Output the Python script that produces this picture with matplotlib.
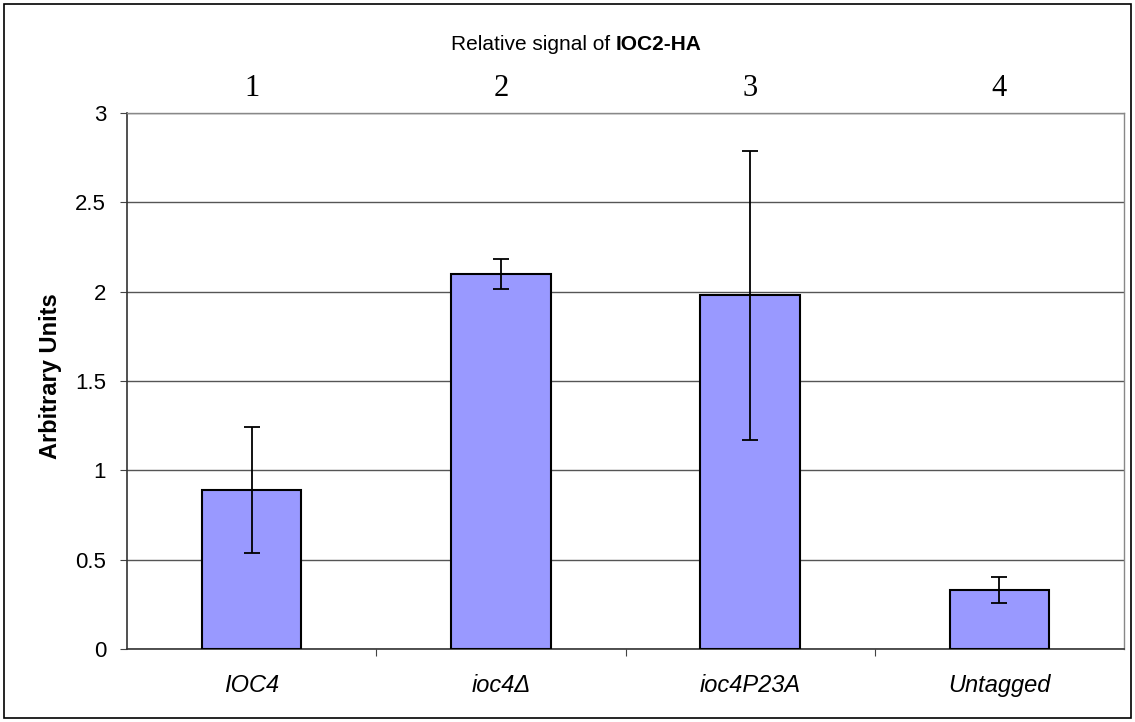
import matplotlib
matplotlib.use("Agg")
from matplotlib import pyplot as plt
from matplotlib import transforms
from matplotlib.patches import Rectangle

plt.rcParams['font.family'] = ['Liberation Sans', 'DejaVu Sans']

categories = ['IOC4', 'ioc4Δ', 'ioc4P23A', 'Untagged']
lane_numbers = ['1', '2', '3', '4']
values = [0.89, 2.10, 1.98, 0.33]
errors = [0.35, 0.085, 0.81, 0.075]
y_ticks = [0, 0.5, 1, 1.5, 2, 2.5, 3]
y_tick_labels = ['0', '0.5', '1', '1.5', '2', '2.5', '3']

W, H = 1135, 722
fig = plt.figure(figsize=(W / 100, H / 100), dpi=100)
ax = fig.add_axes([127 / W, 1 - 649 / H, (1124 - 127) / W, (649 - 113) / H])

x = list(range(len(categories)))
ax.bar(x, values, width=0.4, color='#9999ff', edgecolor='black', linewidth=1.5, zorder=3)
ax.errorbar(x, values, yerr=errors, fmt='none', ecolor='black', elinewidth=1.3,
            capsize=6, capthick=1.3, zorder=4)

ax.set_xlim(-0.5, len(categories) - 0.5)
ax.set_ylim(0, 3)
ax.set_yticks(y_ticks)
ax.set_yticklabels(y_tick_labels, fontsize=16)
ax.yaxis.grid(True, color='#555555', linewidth=1)
ax.set_axisbelow(True)

# category labels between boundary ticks
ax.set_xticks([i + 0.5 for i in x[:-1]])
ax.set_xticklabels([])
ax.set_xticks(x, minor=True)
ax.set_xticklabels(categories, minor=True, fontsize=17, style='italic')
ax.tick_params(axis='x', which='minor', length=0, pad=18)
ax.tick_params(axis='x', which='major', length=5, color='#444444')
ax.tick_params(axis='y', length=5, pad=10, color='#444444')

for side in ['top', 'right']:
    ax.spines[side].set_color('#888888')
    ax.spines[side].set_linewidth(1)
for side in ['left', 'bottom']:
    ax.spines[side].set_color('#333333')
    ax.spines[side].set_linewidth(1.2)

ax.set_ylabel('Arbitrary Units', fontsize=17, fontweight='bold')
ax.yaxis.set_label_coords((62 - 127) / 997, (649 - 376) / 536)

# lane numbers above the plot
trans = transforms.blended_transform_factory(ax.transData, fig.transFigure)
for xi, num in zip(x, lane_numbers):
    ax.text(xi, 1 - 88 / H, num, transform=trans, ha='center', va='center',
            fontsize=22, family='Liberation Serif')

# title: regular part + bold part, centred together
t1 = fig.text(0, 1 - 45 / H, 'Relative signal of ', fontsize=15, va='center', ha='left')
t2 = fig.text(0, 1 - 45 / H, 'IOC2-HA', fontsize=15, fontweight='bold', va='center', ha='left')
fig.canvas.draw()
r = fig.canvas.get_renderer()
w1 = t1.get_window_extent(r).width
w2 = t2.get_window_extent(r).width
cx = 576.5
t1.set_x((cx - (w1 + w2) / 2) / W)
t2.set_x((cx - (w1 + w2) / 2 + w1) / W)

fig.patches.append(Rectangle((4 / W, 4 / H), (1131 - 4) / W, (718 - 4) / H,
                             transform=fig.transFigure, fill=False,
                             edgecolor='black', linewidth=1.2))

fig.savefig('out.png', dpi=100)
